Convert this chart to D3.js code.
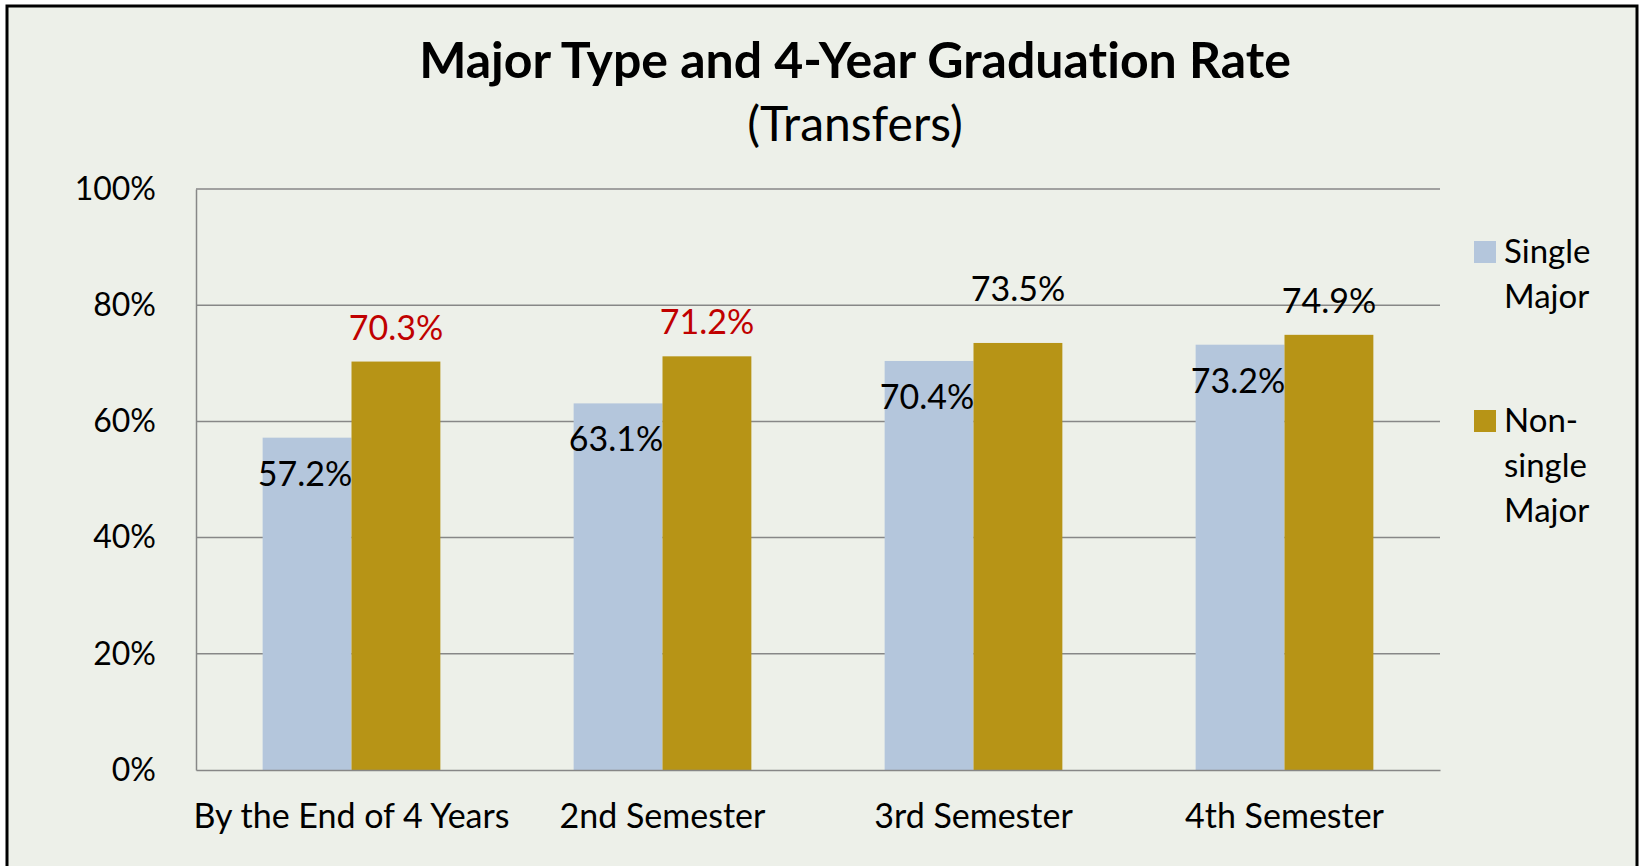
<!DOCTYPE html>
<html lang="en">
<head>
    <meta charset="UTF-8">
    <title>Major Type and 4-Year Graduation Rate</title>
    <script src="https://d3js.org/d3.v7.min.js"></script>
    <style>
        html, body { margin: 0; padding: 0; background: #ffffff; }
        svg { display: block; font-family: Lato, "Open Sans", sans-serif; font-variant-ligatures: none; }
    </style>
</head>
<body>
    <div class="canvas"></div>
    <script>
        // data
        const categories = ['By the End of 4 Years', '2nd Semester', '3rd Semester', '4th Semester'];
        const seriesNames = ['Single Major', 'Non-single Major'];
        const singleMajor = [57.2, 63.1, 70.4, 73.2];
        const nonSingleMajor = [70.3, 71.2, 73.5, 74.9];
        const yTicks = [0, 20, 40, 60, 80, 100];

        const width = 1640;
        const height = 866;
        // plot area
        let [mt, mr, mb, ml] = [189, 200, 96, 196];
        const graphWidth = width - ml - mr;
        const graphHeight = height - mt - mb;

        const colors = ['#b4c6dc', '#b79416'];
        const gridColor = '#878787';

        const svg = d3.select('.canvas')
            .append('svg')
            .attr('width', width)
            .attr('height', height);

        // chart frame
        svg.append('rect')
            .attr('x', 7).attr('y', 6)
            .attr('width', 1630).attr('height', 900)
            .attr('fill', '#edf0e9')
            .attr('stroke', '#000')
            .attr('stroke-width', 3);

        svg.append('text')
            .attr('x', 855).attr('y', 78)
            .attr('text-anchor', 'middle')
            .style('font-size', '50px')
            .style('font-weight', 'bold')
            .text('Major Type and 4-Year Graduation Rate');

        svg.append('text')
            .attr('x', 855).attr('y', 141)
            .attr('text-anchor', 'middle')
            .style('font-size', '48px')
            .text('(Transfers)');

        const graph = svg.append('g')
            .attr('transform', `translate(${ml}, ${mt})`);

        const x = d3.scaleBand()
            .domain(categories)
            .range([0, graphWidth]);

        // excel gap width 150%
        const xSub = d3.scaleBand()
            .domain(seriesNames)
            .range([0, x.bandwidth() * 2 / 3.5])
            .padding(0);
        const groupOffset = x.bandwidth() * 0.75 / 3.5;

        const y = d3.scaleLinear()
            .domain([0, 100])
            .range([graphHeight, 0]);

        // gridlines
        graph.append('g')
            .selectAll('line')
            .data(yTicks.filter(t => t > 0))
            .enter()
            .append('line')
            .attr('x1', 0).attr('x2', graphWidth)
            .attr('y1', d => y(d)).attr('y2', d => y(d))
            .attr('stroke', gridColor)
            .attr('stroke-width', 1.5);

        const rows = categories.map((c, i) => ({
            cat: c,
            values: [singleMajor[i], nonSingleMajor[i]]
        }));

        const groups = graph.selectAll('.grp')
            .data(rows)
            .enter()
            .append('g')
            .attr('transform', d => `translate(${x(d.cat) + groupOffset}, 0)`);

        groups.selectAll('rect')
            .data(d => d.values.map((v, j) => ({ name: seriesNames[j], v, j })))
            .enter()
            .append('rect')
            .attr('x', d => xSub(d.name))
            .attr('width', xSub.bandwidth())
            .attr('y', d => y(d.v))
            .attr('height', d => graphHeight - y(d.v))
            .attr('fill', d => colors[d.j]);

        // data labels: single inside the top, non-single above
        const nudge = [0, 0, -20, 0];
        groups.each(function (d, i) {
            const g = d3.select(this);
            g.append('text')
                .attr('x', xSub(seriesNames[0]) + xSub.bandwidth() / 2 - 2)
                .attr('y', y(d.values[0]) + 48)
                .attr('text-anchor', 'middle')
                .style('font-size', '34px')
                .attr('fill', '#000')
                .text(d.values[0].toFixed(1) + '%');
            g.append('text')
                .attr('x', xSub(seriesNames[1]) + xSub.bandwidth() / 2)
                .attr('y', y(d.values[1]) - 22 + nudge[i])
                .attr('text-anchor', 'middle')
                .style('font-size', '34px')
                .attr('fill', i < 2 ? '#c00000' : '#000')
                .text(d.values[1].toFixed(1) + '%');
        });

        // axes
        const yAxis = d3.axisLeft(y)
            .tickValues(yTicks)
            .tickSize(0)
            .tickPadding(40)
            .tickFormat(d => d + '%');
        const yAxisG = graph.append('g').call(yAxis);
        yAxisG.select('.domain').attr('stroke', gridColor).attr('stroke-width', 1.5);
        yAxisG.selectAll('text')
            .style('font-family', 'Lato, "Open Sans", sans-serif')
            .style('font-size', '32px')
            .attr('fill', '#000');

        const xAxis = d3.axisBottom(x).tickSize(0).tickPadding(34);
        const xAxisG = graph.append('g')
            .attr('transform', `translate(0, ${graphHeight})`)
            .call(xAxis);
        xAxisG.select('.domain').attr('stroke', gridColor).attr('stroke-width', 1.5);
        xAxisG.selectAll('text')
            .style('font-family', 'Lato, "Open Sans", sans-serif')
            .style('font-size', '34px')
            .attr('fill', '#000');

        // legend
        const legendLines = [['Single', 'Major'], ['Non-', 'single', 'Major']];
        const legendTop = [252, 421];
        const legend = svg.append('g');
        seriesNames.forEach((s, i) => {
            legend.append('rect')
                .attr('x', 1474).attr('y', legendTop[i] - 11)
                .attr('width', 22).attr('height', 22)
                .attr('fill', colors[i]);
            const t = legend.append('text')
                .attr('x', 1504)
                .attr('y', legendTop[i] + 11)
                .style('font-size', '33px');
            legendLines[i].forEach((line, k) => {
                t.append('tspan')
                    .attr('x', 1504)
                    .attr('dy', k === 0 ? 0 : 45)
                    .text(line);
            });
        });
    </script>
</body>
</html>
